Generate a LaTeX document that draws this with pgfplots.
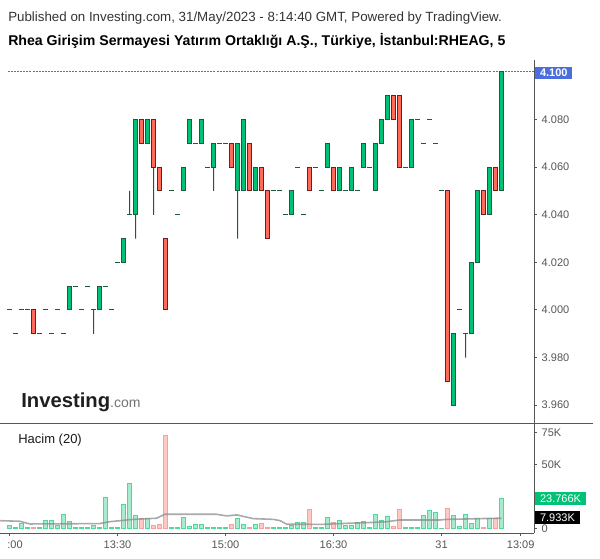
\documentclass[border=0pt]{standalone}
\usepackage{pgfplots}
\pgfplotsset{compat=1.18}
\usepackage{pgfplotstable}
\usepackage{fontspec}
\setmainfont{Liberation Sans}

\definecolor{upfill}{HTML}{00C176}
\definecolor{upline}{HTML}{1E5B3A}
\definecolor{dnfill}{HTML}{FF6A5A}
\definecolor{dnline}{HTML}{6E1E1E}
\definecolor{vupfill}{HTML}{A7ECCF}
\definecolor{vupline}{HTML}{4FD89B}
\definecolor{vdnfill}{HTML}{FFC8C3}
\definecolor{vdnline}{HTML}{F6A199}
\definecolor{axgray}{HTML}{555555}
\definecolor{lbl}{HTML}{555555}
\definecolor{lastblue}{HTML}{4A6EE0}
\definecolor{volgreen}{HTML}{00C176}
\definecolor{titlecol}{HTML}{333333}

% green candles (and unchanged ones): body from lo to hi
\pgfplotstableread{
i lo hi
1 4.00 4.00
2 3.99 3.99
3 4.00 4.00
4 4.00 4.00
6 3.99 3.99
7 4.00 4.00
8 3.99 3.99
9 4.00 4.00
10 3.99 3.99
11 4.00 4.01
12 4.01 4.01
13 4.00 4.00
14 4.01 4.01
15 4.00 4.00
16 4.00 4.01
17 4.01 4.01
18 4.00 4.00
19 4.02 4.02
20 4.02 4.03
21 4.04 4.04
22 4.04 4.08
24 4.07 4.08
28 4.05 4.05
29 4.04 4.04
30 4.05 4.06
31 4.07 4.08
32 4.07 4.07
33 4.07 4.08
34 4.06 4.06
35 4.06 4.07
36 4.07 4.07
37 4.07 4.07
39 4.05 4.07
40 4.05 4.08
42 4.05 4.06
45 4.05 4.05
46 4.05 4.05
47 4.04 4.04
48 4.04 4.05
49 4.06 4.06
50 4.04 4.04
52 4.06 4.06
53 4.05 4.05
54 4.06 4.07
56 4.05 4.06
57 4.05 4.05
58 4.05 4.06
59 4.05 4.05
60 4.06 4.07
61 4.06 4.06
62 4.05 4.07
63 4.07 4.08
64 4.08 4.09
67 4.06 4.06
68 4.06 4.08
69 4.08 4.08
70 4.07 4.07
71 4.08 4.08
72 4.07 4.07
73 4.05 4.05
75 3.96 3.99
76 4.00 4.00
77 3.99 3.99
78 3.99 4.02
79 4.02 4.05
81 4.04 4.06
83 4.05 4.10
}\upbars

% red candles: body from lo (close) to hi (open)
\pgfplotstableread{
i lo hi
5 3.99 4.00
23 4.07 4.08
25 4.06 4.08
26 4.05 4.06
27 4.00 4.03
38 4.06 4.07
41 4.05 4.07
43 4.05 4.06
44 4.03 4.05
51 4.05 4.06
55 4.05 4.06
65 4.08 4.09
66 4.06 4.09
74 3.97 4.05
80 4.04 4.05
82 4.05 4.06
}\downbars

% wicks: low to high
\pgfplotstableread{
i l h
15 3.99 4.00
21 4.04 4.05
22 4.03 4.08
25 4.04 4.08
35 4.05 4.07
39 4.03 4.07
77 3.98 3.99
}\wicks

% volume in thousands, d = 1 up, -1 down
\pgfplotstableread{
i v d
1 2.0 1
2 0.5 1
3 3.4 1
4 0.5 1
5 1.0 -1
6 1.0 1
7 6.5 1
8 5.8 1
9 2.0 1
10 11.0 1
11 5.0 1
12 0.5 1
13 0.5 1
14 0.5 1
15 2.4 1
16 1.0 1
17 24.0 1
18 0.5 1
19 1.0 1
20 19.0 1
21 35.0 1
22 10.0 1
23 8.0 -1
24 7.5 1
25 2.4 -1
26 3.0 -1
27 72.7 -1
28 0.5 1
29 1.0 1
30 8.7 1
31 1.8 1
32 3.0 1
33 3.0 1
34 1.0 1
35 1.0 1
36 0.5 1
37 1.0 1
38 3.0 -1
39 7.3 1
40 3.0 1
41 1.0 -1
42 3.0 1
43 4.0 -1
44 1.0 -1
45 0.3 1
46 0.3 1
47 1.0 1
48 2.0 1
49 4.7 1
50 4.7 1
51 15.0 -1
52 0.5 1
53 0.5 1
54 8.7 1
55 4.7 -1
56 6.5 1
57 2.4 1
58 2.4 1
59 4.7 1
60 5.5 1
61 1.0 1
62 11.0 1
63 6.0 1
64 9.4 1
65 1.8 -1
66 15.0 -1
67 0.5 1
68 0.5 1
69 1.0 1
70 10.0 1
71 14.0 1
72 12.6 1
73 0.2 1
74 15.7 -1
75 10.0 1
76 1.5 1
77 11.0 1
78 4.0 1
79 8.0 1
80 0.8 -1
81 8.0 1
82 7.3 -1
83 23.766 1
}\vol

\pgfplotsset{
  priceax/.style={at={(0pt,101.25pt)}, anchor=south west, scale only axis,
    width=400.5pt, height=272.25pt, xmin=-0.5833, xmax=88.4167,
    ymin=3.95252, ymax=4.10504},
  volax/.style={at={(0pt,18.75pt)}, anchor=south west, scale only axis,
    width=400.5pt, height=82.5pt, xmin=-0.5833, xmax=88.4167,
    ymin=-3.69, ymax=82.6},
  deco/.style={axis line style={draw=axgray, line width=0.75pt},
    tick style={draw=axgray, line width=0.75pt},
    tick align=outside, major tick length=2.25pt,
    tick label style={font=\fontsize{8.25}{10}\selectfont, text=lbl}},
}

\begin{document}
\begin{tikzpicture}
\path[use as bounding box] (0,0) rectangle (450pt,418.5pt);

% price decoration axis, last-price line and unchanged (doji) candles
\begin{axis}[priceax, deco, axis x line=none, axis y line*=right,
  ytick={3.96,3.98,4.00,4.02,4.04,4.06,4.08},
  /pgf/number format/assume math mode=true,
  y tick label style={/pgf/number format/fixed, /pgf/number format/fixed zerofill, /pgf/number format/precision=3}]
\addplot[lastblue, line width=0.75pt, dash pattern=on 1.5pt off 0.8pt] coordinates {(0.75,4.10) (88.4,4.10)};
\addplot[only marks, mark=-, mark size=1.7pt, mark options={draw=upline, line width=0.75pt},
  restrict expr to domain={\thisrow{hi}-\thisrow{lo}}{-0.001:0.001}] table[x=i, y=lo]{\upbars};
\end{axis}

% wicks
\begin{axis}[priceax, hide axis, ybar stacked, bar width=0.75pt]
\addplot[draw=none, fill=none] table[x=i, y=l]{\wicks};
\addplot[draw=none, fill=upline] table[x=i, y expr=\thisrow{h}-\thisrow{l}]{\wicks};
\end{axis}

% green bodies
\begin{axis}[priceax, hide axis, ybar stacked, bar width=2.5pt]
\addplot[draw=none, fill=none] table[x=i, y=lo]{\upbars};
\addplot[draw=upline, fill=upfill, line width=0.75pt] table[x=i, y expr=\thisrow{hi}-\thisrow{lo}]{\upbars};
\end{axis}

% red bodies
\begin{axis}[priceax, hide axis, ybar stacked, bar width=2.5pt]
\addplot[draw=none, fill=none] table[x=i, y=lo]{\downbars};
\addplot[draw=dnline, fill=dnfill, line width=0.75pt] table[x=i, y expr=\thisrow{hi}-\thisrow{lo}]{\downbars};
\end{axis}

% volume
\begin{axis}[volax, deco, axis x line*=bottom, axis y line*=right,
  ytick={0,50,75}, yticklabels={0,50K,75K},
  xtick={1,19,37,55,73,86.2},
  xticklabels={\hspace*{8.25pt}:00,13:30,15:00,16:30,31,13:09}]
\addplot[ybar, bar width=3.7pt, bar shift=0pt, draw=vupline, fill=vupfill, line width=0.75pt,
  restrict expr to domain={\thisrow{d}}{0:2}] table[x=i, y=v]{\vol};
\addplot[ybar, bar width=3.7pt, bar shift=0pt, draw=vdnline, fill=vdnfill, line width=0.75pt,
  restrict expr to domain={\thisrow{d}}{-2:0}] table[x=i, y=v]{\vol};
\addplot[sharp plot, mark=none, draw=black!45, line width=1.2pt, opacity=0.75] coordinates {
(-0.58,6.0) (2.75,5.5) (4.4,3.4) (16,3.7) (17.75,5.2) (21.6,7.0) (25.5,7.9) (26.9,11.0)
(35.5,11.0) (37.2,9.7) (38.9,10.5) (41.6,7.6) (45,7.0) (46.1,6.0) (47.2,3.2) (53.2,3.1)
(57.2,3.9) (61,4.5) (63.9,5.2) (66,6.5) (72.7,6.5) (73.8,7.0) (77.2,7.3) (79.4,7.6) (83,7.933)};
\end{axis}

\begin{scope}[x=0.75pt, y=-0.75pt, shift={(0pt,418.5pt)}]
\draw[axgray, line width=0.75pt] (0,423) -- (593,423);
\node[anchor=base west, inner sep=0pt, text=titlecol, font=\fontsize{10}{12}\selectfont] at (8,21.5)
  {Published on Investing.com, 31/May/2023 - 8:14:40 GMT, Powered by TradingView.};
\node[anchor=base west, inner sep=0pt, text=black, font=\fontsize{10.6}{12}\selectfont\bfseries] at (8,45.5)
  {Rhea Girişim Sermayesi Yatırım Ortaklığı A.Ş., Türkiye, İstanbul:RHEAG, 5};
\node[anchor=base west, inner sep=0pt, text=black!88] at (21,407)
  {{\fontsize{15.2}{16}\selectfont\bfseries Investing}{\fontsize{10.5}{12}\selectfont\color{black!55}.com}};
\node[anchor=base west, inner sep=0pt, text=black!90, font=\fontsize{9.75}{12}\selectfont] at (18,443.5) {Hacim (20)};
\node[anchor=west, fill=lastblue, text=white, inner xsep=3.6pt, inner ysep=0pt, minimum height=9.5pt,
  font=\fontsize{8.25}{10}\selectfont\bfseries] at (535,73) {4.100};
\node[anchor=west, fill=volgreen, text=white, inner xsep=3.6pt, inner ysep=0pt, minimum height=9.75pt,
  font=\fontsize{8.25}{10}\selectfont] at (535,498.5) {23.766K};
\node[anchor=west, fill=black, text=white, inner xsep=3.6pt, inner ysep=0pt, minimum height=9.75pt,
  font=\fontsize{8.25}{10}\selectfont] at (535,517.5) {7.933K};
\end{scope}
\end{tikzpicture}
\end{document}
